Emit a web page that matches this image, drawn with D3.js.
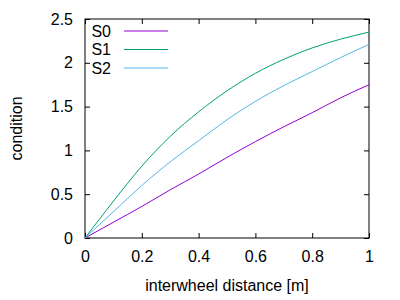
<!DOCTYPE html>
<html>
<head>
<meta charset="utf-8">
<script src="https://cdn.jsdelivr.net/npm/d3@7"></script>
<style>
  body { margin: 0; background: #fff; }
  svg text { font-family: "Liberation Sans", Arial, sans-serif; font-size: 16px; fill: #000; }
</style>
</head>
<body>
<svg id="chart" width="400" height="300"></svg>
<script>
// data
const xs = [0, 0.1, 0.2, 0.3, 0.4, 0.5, 0.6, 0.7, 0.8, 0.9, 1];
const s0 = [0, 0.18, 0.36, 0.55, 0.73, 0.92, 1.10, 1.27, 1.43, 1.60, 1.75];
const s1 = [0, 0.42, 0.82, 1.16, 1.44, 1.68, 1.88, 2.04, 2.17, 2.27, 2.35];
const s2 = [0, 0.30, 0.60, 0.87, 1.11, 1.35, 1.56, 1.74, 1.90, 2.06, 2.21];
const seriesNames = ["S0", "S1", "S2"];
const colors = ["#9400d3", "#009e73", "#56b4e9"];
const xTicks = [0, 0.2, 0.4, 0.6, 0.8, 1];
const yTicks = [0, 0.5, 1, 1.5, 2, 2.5];

const margin = { left: 85, right: 31, top: 19, bottom: 62 };
const width = 400 - margin.left - margin.right;
const height = 300 - margin.top - margin.bottom;

const svg = d3.select("#chart");
const g = svg.append("g")
  .attr("transform", "translate(" + margin.left + "," + margin.top + ")");

const x = d3.scaleLinear().domain([0, 1]).range([0, width]);
const y = d3.scaleLinear().domain([0, 2.5]).range([height, 0]);

const tickLen = 5;

// bottom axis, ticks pointing inward
g.append("g")
  .attr("transform", "translate(0," + height + ")")
  .call(d3.axisBottom(x).tickValues(xTicks).tickSize(-tickLen).tickPadding(13).tickFormat(d3.format("")))
  .call(a => a.select(".domain").remove());

// top mirror ticks
g.append("g")
  .call(d3.axisTop(x).tickValues(xTicks).tickSize(-tickLen).tickFormat(""))
  .call(a => a.select(".domain").remove());

// left axis
g.append("g")
  .call(d3.axisLeft(y).tickValues(yTicks).tickSize(-tickLen).tickPadding(12).tickFormat(d3.format("")))
  .call(a => a.select(".domain").remove());

// right mirror ticks
g.append("g")
  .attr("transform", "translate(" + width + ",0)")
  .call(d3.axisRight(y).tickValues(yTicks).tickSize(-tickLen).tickFormat(""))
  .call(a => a.select(".domain").remove());

g.selectAll(".tick line").attr("stroke", "#000");
g.selectAll(".tick text").style("font-size", "16px").style("font-family", "'Liberation Sans', Arial, sans-serif");

// plot border
g.append("rect")
  .attr("width", width)
  .attr("height", height)
  .attr("fill", "none")
  .attr("stroke", "#000")
  .attr("stroke-width", 1);

// series lines
const allSeries = [s0, s1, s2];
const line = d3.line()
  .x((d, i) => x(xs[i]))
  .y(d => y(d))
  .curve(d3.curveMonotoneX);

allSeries.forEach((vals, k) => {
  g.append("path")
    .datum(vals)
    .attr("fill", "none")
    .attr("stroke", colors[k])
    .attr("stroke-width", 1)
    .attr("d", line);
});

// legend
const legend = g.append("g").attr("transform", "translate(0,12)");
seriesNames.forEach((name, k) => {
  const row = legend.append("g").attr("transform", "translate(0," + (k * 18.5) + ")");
  row.append("text")
    .attr("x", 26)
    .attr("dy", "0.35em")
    .attr("text-anchor", "end")
    .text(name);
  row.append("line")
    .attr("x1", 39).attr("x2", 83)
    .attr("stroke", colors[k])
    .attr("stroke-width", 1);
});

// axis titles
svg.append("text")
  .attr("transform", "translate(22," + (margin.top + height / 2) + ") rotate(-90)")
  .attr("text-anchor", "middle")
  .text("condition");

svg.append("text")
  .attr("x", margin.left + width / 2)
  .attr("y", 291)
  .attr("text-anchor", "middle")
  .text("interwheel distance [m]");
</script>
</body>
</html>
